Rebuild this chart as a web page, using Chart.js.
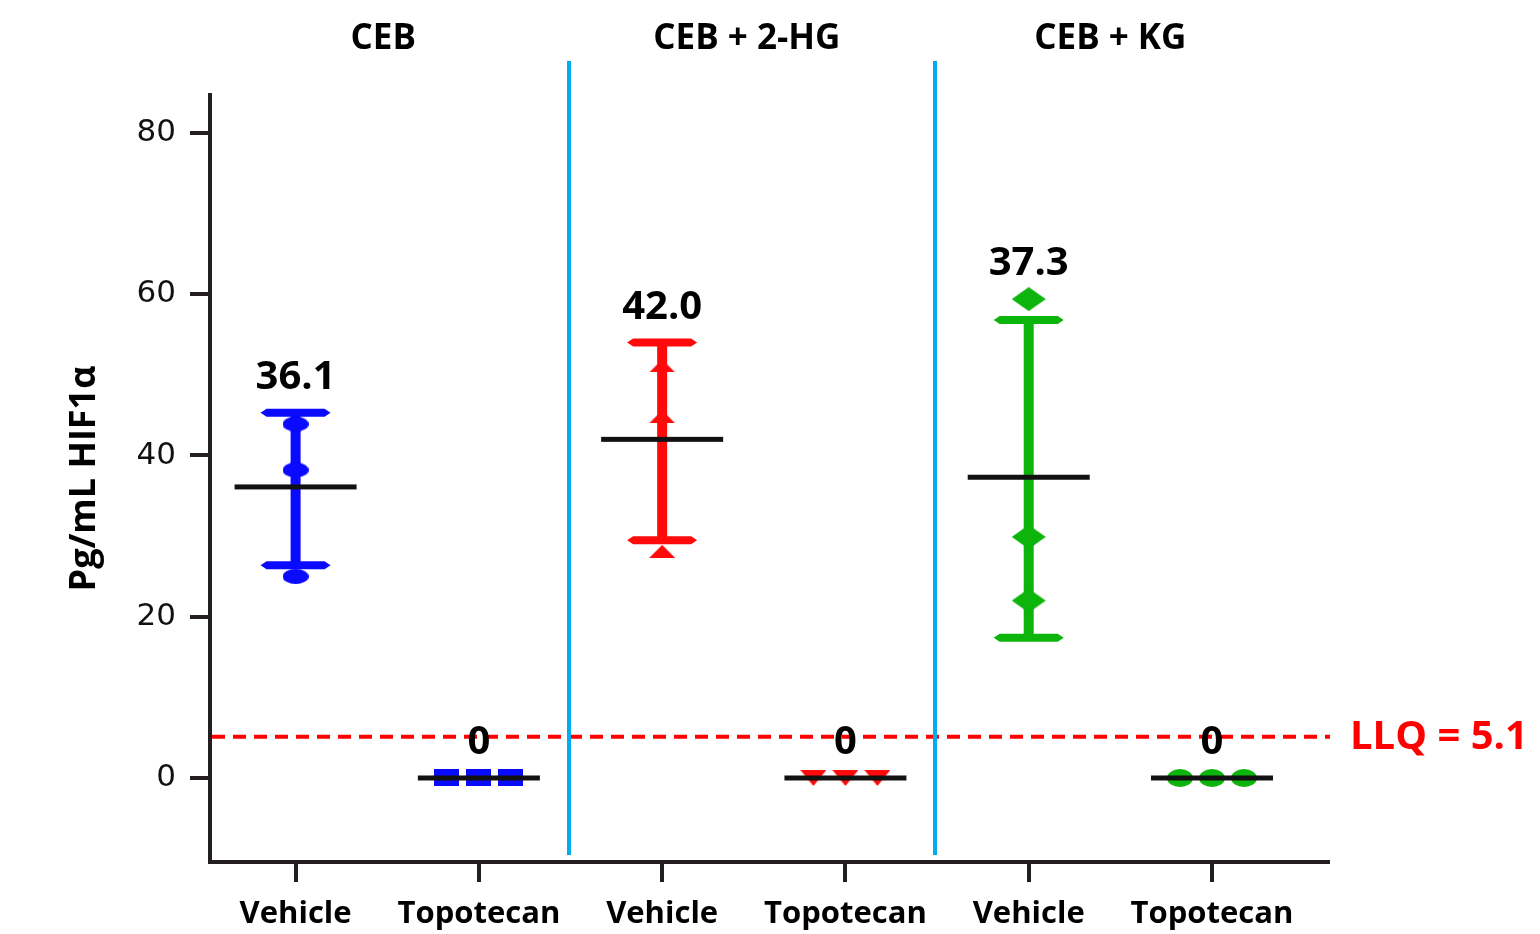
<!DOCTYPE html>
<html><head><meta charset="utf-8">
<script src="https://cdn.jsdelivr.net/npm/chart.js@4.4.1/dist/chart.umd.min.js"></script>
<style>html,body{margin:0;padding:0;background:#fff;overflow:hidden}#wrap{width:1540px;height:934px}</style>
</head><body><div id="wrap"><canvas id="c" width="1540" height="934"></canvas></div>
<script>
// ---- data ----
const categories = ['Vehicle', 'Topotecan', 'Vehicle', 'Topotecan', 'Vehicle', 'Topotecan'];
const groupTitles = ['CEB', 'CEB + 2-HG', 'CEB + KG'];
const meanValues = [36.1, 0, 42.0, 0, 37.3, 0];
const meanLabels = ['36.1', '0', '42.0', '0', '37.3', '0'];
const errUpper = [45.3, null, 54.0, null, 56.8, null];
const errLower = [26.4, null, 29.5, null, 17.4, null];
const ptsCEBVehicle = [43.9, 38.2, 25.0];
const ptsCEBTopotecan = [0, 0, 0];
const pts2HGVehicle = [51.1, 44.8, 28.1];
const pts2HGTopotecan = [0, 0, 0];
const ptsKGVehicle = [59.4, 29.9, 22.0];
const ptsKGTopotecan = [0, 0, 0];
const llqValue = 5.1;
const llqLabel = 'LLQ = 5.1';
const yTicks = [0, 20, 40, 60, 80];
const yTitle = 'Pg/mL HIF1\u03b1';

// ---- styles ----
const BLUE = '#0a0aff', RED = '#ff0a0a', GREEN = '#0cb40c', DIV = '#00aeef', AX = '#231f20';
const BOLD = '"Open Sans", "DejaVu Sans", sans-serif';

function marker(shape, w, h, color) {
  const c = document.createElement('canvas');
  c.width = w; c.height = h;
  const g = c.getContext('2d');
  g.fillStyle = color;
  g.beginPath();
  if (shape === 'ellipse') g.ellipse(w / 2, h / 2, w / 2, h / 2, 0, 0, Math.PI * 2);
  else if (shape === 'rect') { g.rect(0, 0, w, h); }
  else if (shape === 'triUp') { g.moveTo(w / 2, 0); g.lineTo(w, h); g.lineTo(0, h); g.closePath(); }
  else if (shape === 'triDown') { g.moveTo(0, 0); g.lineTo(w, 0); g.lineTo(w / 2, h); g.closePath(); }
  else if (shape === 'diamond') { g.moveTo(w / 2, 0); g.lineTo(w, h / 2); g.lineTo(w / 2, h); g.lineTo(0, h / 2); g.closePath(); }
  g.fill();
  return c;
}

const groups = [
  { pts: ptsCEBVehicle, color: BLUE, style: marker('ellipse', 26, 15, BLUE), spread: 0 },
  { pts: ptsCEBTopotecan, color: BLUE, style: marker('rect', 25, 17, BLUE), spread: 32 },
  { pts: pts2HGVehicle, color: RED, style: marker('triUp', 26, 13, RED), spread: 0 },
  { pts: pts2HGTopotecan, color: RED, style: marker('triDown', 26, 16, RED), spread: 32 },
  { pts: ptsKGVehicle, color: GREEN, style: marker('diamond', 34, 24, GREEN), spread: 0 },
  { pts: ptsKGTopotecan, color: GREEN, style: marker('ellipse', 26, 18, GREEN), spread: 32 }
];

const datasets = groups.map((g, i) => ({
  label: categories[i],
  data: g.pts.map(v => ({ x: i + 1, y: v })),
  pointStyle: g.style,
  pointRadius: 12,
  backgroundColor: g.color,
  borderColor: g.color,
  showLine: false,
  spread: g.spread
}));

const jitterPlugin = {
  id: 'jitter',
  afterDatasetsUpdate(chart) {
    chart.data.datasets.forEach((ds, di) => {
      if (!ds.spread) return;
      const meta = chart.getDatasetMeta(di);
      const n = meta.data.length;
      meta.data.forEach((el, k) => { el.x += (k - (n - 1) / 2) * ds.spread; });
    });
  }
};

const decorPlugin = {
  id: 'decor',
  beforeDatasetsDraw(chart) {
    const ctx = chart.ctx, xs = chart.scales.x, ys = chart.scales.y;
    ctx.save();
    categories.forEach((c, i) => {
      if (errUpper[i] == null) return;
      const x = xs.getPixelForValue(i + 1);
      const yu = ys.getPixelForValue(errUpper[i]);
      const yl = ys.getPixelForValue(errLower[i]);
      const col = groups[i].color;
      ctx.fillStyle = col;
      ctx.fillRect(x - 5, yu, 10, yl - yu);
      [yu, yl].forEach(y => {
        ctx.beginPath();
        ctx.moveTo(x - 35, y); ctx.lineTo(x - 29, y - 4); ctx.lineTo(x + 29, y - 4);
        ctx.lineTo(x + 35, y); ctx.lineTo(x + 29, y + 4); ctx.lineTo(x - 29, y + 4);
        ctx.closePath(); ctx.fill();
      });
    });
    ctx.restore();
  },
  afterDatasetsDraw(chart) {
    const ctx = chart.ctx, xs = chart.scales.x, ys = chart.scales.y, a = chart.chartArea;
    ctx.save();
    // mean lines
    ctx.fillStyle = '#111';
    categories.forEach((c, i) => {
      const x = xs.getPixelForValue(i + 1);
      const y = ys.getPixelForValue(meanValues[i]);
      ctx.fillRect(x - 61, y - 2.5, 122, 5);
    });
    // LLQ dashed line
    const yl = ys.getPixelForValue(llqValue);
    ctx.strokeStyle = '#ff0000';
    ctx.lineWidth = 4;
    ctx.setLineDash([13, 8]);
    ctx.beginPath(); ctx.moveTo(a.left + 2, yl); ctx.lineTo(a.right + 2, yl); ctx.stroke();
    ctx.setLineDash([]);
    ctx.fillStyle = '#ff0000';
    ctx.font = 'bold 40px ' + BOLD;
    ctx.textAlign = 'left'; ctx.textBaseline = 'middle';
    ctx.fillText(llqLabel, a.right + 22, yl + 1);
    // value labels
    ctx.fillStyle = '#000';
    ctx.textAlign = 'center';
    categories.forEach((c, i) => {
      const x = xs.getPixelForValue(i + 1);
      const top = Math.max(errUpper[i] == null ? meanValues[i] : errUpper[i], ...groups[i].pts);
      const y = ys.getPixelForValue(top);
      ctx.fillText(meanLabels[i], x, y - 35);
    });
    // dividers
    ctx.strokeStyle = DIV;
    ctx.lineWidth = 4;
    [2.5, 4.5].forEach(v => {
      const x = Math.round(xs.getPixelForValue(v)) - 2;
      ctx.beginPath(); ctx.moveTo(x, a.top - 34); ctx.lineTo(x, a.bottom - 7); ctx.stroke();
    });
    // group titles
    ctx.fillStyle = '#000';
    ctx.font = 'bold 35px ' + BOLD;
    groupTitles.forEach((t, gi) => {
      const x = xs.getPixelForValue(gi * 2 + 1.5) - 4 - gi * 3;
      ctx.fillText(t, x, 39);
    });
    ctx.restore();
  }
};

Chart.defaults.font.family = BOLD;
new Chart(document.getElementById('c'), {
  type: 'scatter',
  data: { datasets },
  options: {
    responsive: false,
    animation: false,
    devicePixelRatio: 1,
    layout: { padding: { top: 95, right: 212, bottom: 0, left: 0 } },
    plugins: { legend: { display: false }, tooltip: { enabled: false } },
    scales: {
      x: {
        type: 'linear', position: 'bottom', min: 0.533, max: 6.633,
        border: { color: AX, width: 4 },
        grid: { drawOnChartArea: false, drawTicks: true, tickLength: 20, color: AX, lineWidth: 4 },
        ticks: {
          color: '#000', padding: 14, maxRotation: 0, autoSkip: false,
          font: { family: BOLD, size: 31, weight: 'bold' },
          callback: v => categories[Math.round(v) - 1]
        },
        afterBuildTicks: s => { s.ticks = categories.map((c, i) => ({ value: i + 1 })); },
        afterFit: s => { s.height = 72; }
      },
      y: {
        type: 'linear', min: -10.42, max: 84.71,
        border: { color: AX, width: 4 },
        grid: { drawOnChartArea: false, drawTicks: true, tickLength: 20, color: AX, lineWidth: 4 },
        ticks: {
          color: '#111', padding: 14,
          font: { family: '"DejaVu Sans", sans-serif', size: 31 }
        },
        afterBuildTicks: s => { s.ticks = yTicks.map(v => ({ value: v })); },
        title: {
          display: true, text: yTitle, color: '#000',
          font: { family: BOLD, size: 36, weight: 'bold' },
          padding: { top: 63, bottom: 0 }
        },
        afterFit: s => { s.width = 210; }
      }
    }
  },
  plugins: [jitterPlugin, decorPlugin]
});
</script></body></html>
